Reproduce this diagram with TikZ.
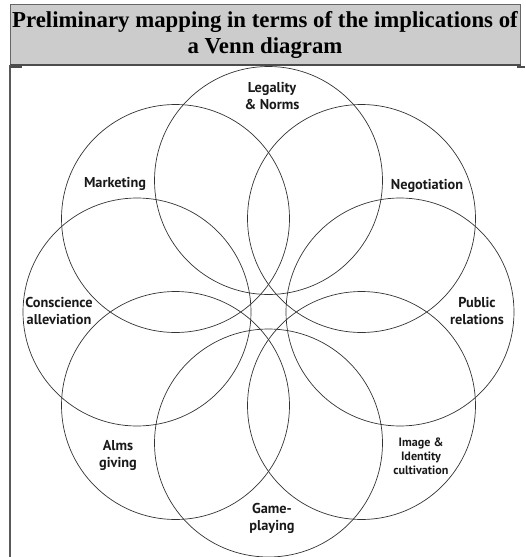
\documentclass[tikz,border=0pt]{standalone}
\usepackage{fontspec}
\setmainfont{Liberation Serif}
\newfontfamily\labelfont{PT Sans}
\begin{document}
\begin{tikzpicture}[x=1pt,y=-1pt,
  ring/.style={circle, draw=black!80, line width=0.7pt, minimum size=228pt, inner sep=0pt},
  lbl/.style={font=\labelfont\bfseries\fontsize{14.3}{17}\selectfont, align=center, text=black!90, inner sep=0pt},
  smalllbl/.style={lbl, font=\labelfont\bfseries\fontsize{12.1}{14}\selectfont},
  frame/.style={draw=black!65, line width=1.4pt},
  titlefont/.style={font=\bfseries\fontsize{22.8}{26}\selectfont}]
\useasboundingbox (0,0) rectangle (525,557);

% header cell
\node[fill=black!20, draw=black!60, line width=1pt, minimum width=510pt, minimum height=60pt,
      anchor=north west, inner sep=0pt] (head) at (10,4) {};
\draw[black!70, line width=1.6pt] (head.south west) -- (head.south east);
\node[titlefont, align=center, inner sep=0pt] (title) at (265,35)
  {Preliminary mapping in terms of the implications of\\a Venn diagram};

% table rules below the header
\coordinate (lf) at (10,557);
\draw[frame] (head.south west) -- (lf);
\coordinate (ra) at (10,67);
\coordinate (rb) at (22,67);
\coordinate (rc) at (517,67);
\coordinate (rd) at (525,67);
\draw[black!70, line width=1.2pt] (ra) -- (rb);
\draw[black!70, line width=1.2pt] (rc) -- (rd);

% eight overlapping circles in a ring
\node[ring] (cLeg) at (268.5,180.5) {};
\node[ring] (cNeg) at (361.5,218.5) {};
\node[ring] (cPR)  at (400,312) {};
\node[ring] (cImg) at (361.5,405.5) {};
\node[ring] (cGam) at (268.5,443) {};
\node[ring] (cAlm) at (175.5,405.5) {};
\node[ring] (cCon) at (137,312) {};
\node[ring] (cMkt) at (175.5,218.5) {};

% circle labels
\node[lbl] (tLeg) at (272,96) {Legality\\\& Norms};
\node[lbl] (tMkt) at (115,184) {Marketing};
\node[lbl] (tNeg) at (427,186) {Negotiation};
\node[lbl] (tCon) at (59,311) {Conscience\\alleviation};
\node[lbl] (tPR)  at (477,311) {Public\\relations};
\node[lbl] (tAlm) at (118,455) {Alms\\giving};
\node[smalllbl] (tImg) at (421,456) {Image \&\\Identity\\cultivation};
\node[lbl] (tGam) at (272,518) {Game-\\playing};
\end{tikzpicture}
\end{document}
